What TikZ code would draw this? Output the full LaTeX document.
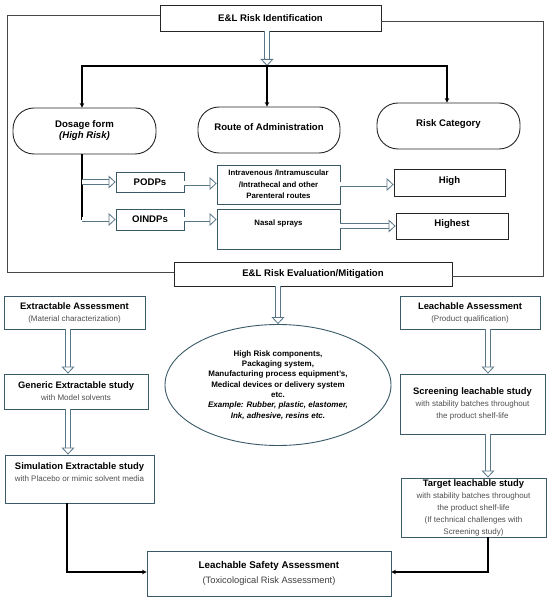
\documentclass[tikz,border=0pt]{standalone}
\usepackage{fontspec}
\setmainfont{Liberation Sans}
\usetikzlibrary{arrows.meta,shapes.geometric}
\definecolor{bteal}{RGB}{58,90,104}
\definecolor{aout}{RGB}{88,118,134}
\definecolor{dk}{RGB}{38,38,38}
\definecolor{subg}{RGB}{80,80,80}
\newcommand{\ttl}{\bfseries\fontsize{9.6}{11}\selectfont}
\newcommand{\ttb}{\bfseries\fontsize{9.4}{11}\selectfont}
\newcommand{\ttlx}[1]{{\ttb #1}}
\newcommand{\sbl}[1]{{\fontsize{8}{10.3}\selectfont\color{subg}#1}}
\begin{document}
\begin{tikzpicture}[x=1pt,y=-1pt,
  tbox/.style={draw=dk, line width=0.9pt, fill=white, align=center, inner sep=1pt},
  gbox/.style={draw=bteal, line width=0.9pt, fill=white, align=center, inner sep=1pt},
  pill/.style={draw=dk, line width=0.9pt, fill=white, align=center, rounded corners=21pt, inner sep=1pt},
  frame/.style={draw=dk!85, line width=0.9pt},
  trunk/.style={draw=black, line width=1.3pt},
  conn/.style={draw=black, line width=1.3pt, -{Stealth[length=4.5pt,width=4.5pt]}},
  hollow/.style={draw=aout, line width=0.8pt, double=white, double distance=4pt,
    -{Triangle[open, fill=white, length=7pt, width=13pt]}}]
\useasboundingbox (0,0) rectangle (550,601);
\fill[white] (0,0) rectangle (550,601);

% ---------- identification part ----------
\node[tbox, minimum width=221pt, minimum height=26pt, font=\ttl] (id) at (270.5,18) {E\&L Risk Identification};
\node[tbox, minimum width=278pt, minimum height=24pt, font=\ttl] (eval) at (313,274) {E\&L Risk Evaluation/Mitigation};

\coordinate (fBL) at (7,272);
\coordinate (fBR) at (543,276);
\draw[frame] ([yshift=3pt]id.west) -| (fBL) -- (fBL -| eval.west);
\draw[frame] ([yshift=-3pt]id.east) -| (fBR) -- (fBR -| eval.east);

\node[pill, minimum width=143pt, minimum height=46pt, font=\ttl] (dos) at (84.5,131) {Dosage form\\ \textit{(High Risk)}};
\node[pill, minimum width=142pt, minimum height=46pt, font=\ttl, text depth=6pt] (route) at (269,130) {Route of Administration};
\node[pill, minimum width=143pt, minimum height=46pt, font=\ttl, text depth=6pt] (cat) at (448.5,126) {Risk Category};

\coordinate (hb) at (267,66);
\coordinate (hL) at (82,66);
\coordinate (hR) at (447,66);
\draw[hollow] (id.south -| hb) -- (hb);
\draw[trunk] ([xshift=-0.65pt]hL) -- ([xshift=0.65pt]hR);
\draw[conn] (hL) -- (hL |- dos.north);
\draw[conn] (hb) -- (hb |- route.north);
\draw[conn] (hR) -- (hR |- cat.north);

\node[gbox, minimum width=68pt, minimum height=20pt, font=\ttl] (podp) at (150,182) {PODPs};
\node[gbox, minimum width=68pt, minimum height=21pt, font=\ttl] (oindp) at (150,219.5) {OINDPs};
\node[gbox, minimum width=123pt, minimum height=39pt, font=\bfseries\fontsize{7.8}{11.5}\selectfont] (iv) at (278.5,184.5) {Intravenous /Intramuscular\\ /Intrathecal and other\\ Parenteral routes};
\node[gbox, minimum width=123pt, minimum height=40pt, font=\bfseries\fontsize{7.8}{11}\selectfont] (nasal) at (278.5,229) {Nasal sprays\\[2pt] \mbox{}};
\node[tbox, minimum width=111pt, minimum height=27pt, font=\ttl, text depth=5pt] (high) at (449.5,182.5) {High};
\node[tbox, minimum width=112pt, minimum height=26pt, font=\ttl, text depth=5pt] (highest) at (452,226) {Highest};

\coordinate (t1) at (82,182);
\coordinate (t2) at (82,219.5);
\draw[trunk] (hL |- dos.south) -- ([yshift=-0.65pt]t2);
\draw[hollow] (t1) -- (podp.west);
\draw[hollow] (t2) -- (oindp.west);
\draw[hollow] ([yshift=-1.5pt]podp.east) -- ([yshift=-1.5pt]podp.east -| iv.west);
\draw[hollow] (oindp.east) -- (oindp.east -| nasal.west);
\draw[hollow] (iv.east) -- (iv.east -| high.west);
\draw[hollow] (highest.west -| nasal.east) -- (highest.west);

% ---------- evaluation part ----------
\node[draw=bteal, line width=0.9pt, ellipse, fill=white, minimum width=226pt, minimum height=121pt, inner sep=0pt, align=center,
  font=\bfseries\fontsize{8}{10.3}\selectfont] (ell) at (278,385)
  {High Risk components,\\ Packaging system,\\ Manufacturing process equipment's,\\ Medical devices or delivery system\\ etc.\\
   \textit{Example: Rubber, plastic, elastomer,}\\ \textit{Ink, adhesive, resins etc.}};
\draw[hollow] (ell.north |- eval.south) -- (ell.north);

\node[gbox, minimum width=141pt, minimum height=33pt] (ea) at (74.5,312.5) {\ttlx{Extractable Assessment}\\ \sbl{(Material characterization)}};
\node[gbox, minimum width=144pt, minimum height=35pt] (ge) at (76,391.5) {\ttlx{Generic Extractable study}\\ \sbl{with Model solvents}};
\node[gbox, minimum width=149pt, minimum height=48pt] (sim) at (79.5,479) {\ttlx{Simulation Extractable study}\\ \sbl{with Placebo or mimic solvent media}\\[1pt]\mbox{}};

\node[gbox, minimum width=140pt, minimum height=33pt] (la) at (470,312.5) {\ttlx{Leachable Assessment}\\ \sbl{(Product qualification)}};
\node[gbox, minimum width=145pt, minimum height=60pt] (sc) at (472.5,404) {\ttlx{Screening leachable study}\\ \sbl{with stability batches throughout}\\ \sbl{the product shelf-life}};
\node[gbox, minimum width=145pt, minimum height=59pt] (tg) at (473.5,507.5) {\ttlx{Target leachable study}\\ \sbl{with stability batches throughout}\\ \sbl{the product shelf-life}\\ \sbl{(If technical challenges with}\\ \sbl{Screening study)}};

\node[gbox, minimum width=244pt, minimum height=45pt] (lsa) at (269,573.5) {{\fontsize{9.8}{11}\selectfont\bfseries Leachable Safety Assessment}\\[3pt] {\fontsize{9.3}{11}\selectfont\color{subg!80!black}(Toxicological Risk Assessment)}};

\coordinate (cL) at (68,0);
\coordinate (cR) at (488,0);
\coordinate (cS) at (67,0);
\draw[hollow] (cL |- ea.south) -- (cL |- ge.north);
\draw[hollow] (cL |- ge.south) -- (cL |- sim.north);
\draw[hollow] (cR |- la.south) -- (cR |- sc.north);
\draw[hollow] (cR |- sc.south) -- (cR |- tg.north);

\draw[conn] (cS |- sim.south) |- ([yshift=1.5pt]lsa.west);
\draw[conn] (cR |- tg.south) |- ([yshift=1.5pt]lsa.east);
\end{tikzpicture}
\end{document}
